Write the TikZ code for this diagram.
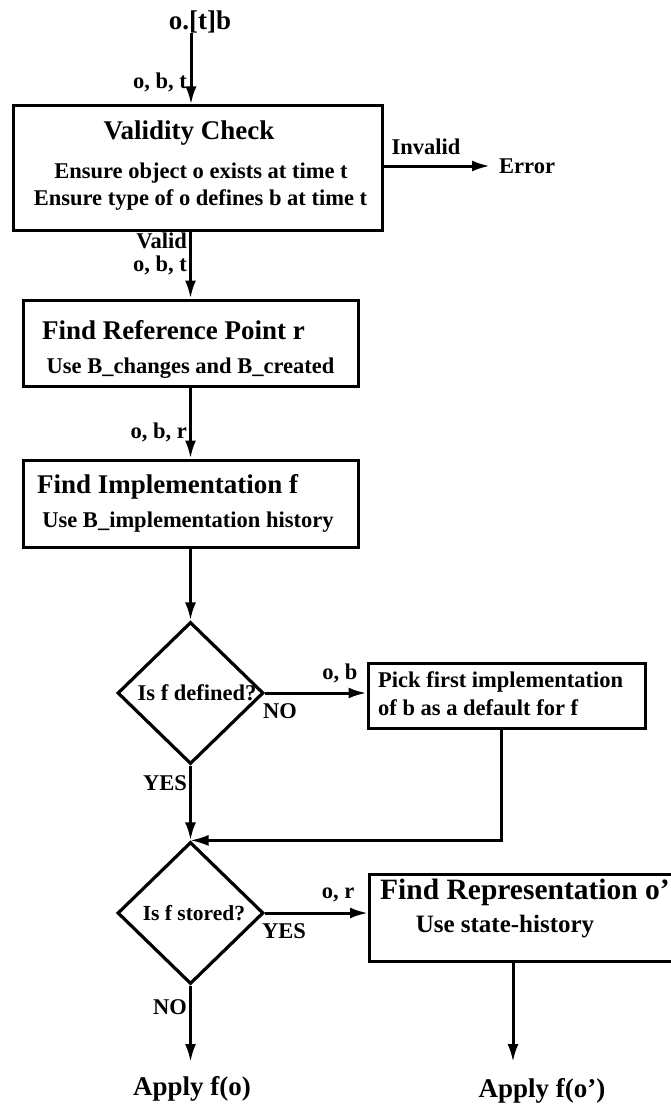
\documentclass[tikz,border=0pt]{standalone}
\usepackage{fontspec}
\setmainfont{Liberation Serif}
\usetikzlibrary{arrows.meta,shapes.geometric,calc}
\begin{document}
\begin{tikzpicture}[x=1pt,y=-1pt,
  box/.style={draw,line width=3pt,rectangle,inner sep=0pt},
  dia/.style={draw,line width=3.2pt,diamond,inner sep=0pt,minimum width=146pt,minimum height=142pt},
  hd/.style={inner sep=0pt,font=\fontsize{27}{30}\selectfont\bfseries},
  tx/.style={inner sep=0pt,font=\fontsize{22.5}{26}\selectfont\bfseries},
  lbl/.style={inner sep=0pt,font=\fontsize{22.5}{26}\selectfont\bfseries},
  ln/.style={line width=2.4pt},
  arr/.style={line width=3pt,-{Latex[length=18pt,width=11pt]}}]
\useasboundingbox (0,0) rectangle (670,1105);

% input
\node[hd] (top) at (200,22) {o.[t]b};
\coordinate (in) at (191,33);

% validity check
\node[box,minimum width=369pt,minimum height=124pt] (valid) at (197.5,168) {};
\node[hd] (vt) at (189,133) {Validity Check};
\node[tx] (v1) at (201,173) {Ensure object o exists at time t};
\node[tx] (v2) at (200.5,200) {Ensure type of o defines b at time t};
\draw[arr] (in) -- (in |- valid.north);
\node[lbl,anchor=east] (l1) at (187,82) {o, b, t};

\node[lbl,anchor=west] (err) at (499,166) {Error};
\node[lbl] (inv) at (426,147) {Invalid};
\draw[arr] (valid.east |- err.west) -- ([xshift=-9pt]err.west);

\node[lbl,anchor=east] (vl) at (187,241) {Valid};
\node[lbl,anchor=east] (l2) at (187,265) {o, b, t};

% reference point
\node[box,minimum width=335pt,minimum height=86pt] (ref) at (190.5,343) {};
\node[hd,anchor=west] (rt) at (42,330) {Find Reference Point r};
\node[tx] (r1) at (190.5,368) {Use B\_changes and B\_created};
\draw[arr] (valid.south -| ref.north) -- (ref.north);

% implementation
\node[box,minimum width=335pt,minimum height=87pt] (impl) at (190.5,503.5) {};
\node[hd,anchor=west] (it) at (37,487) {Find Implementation f};
\node[tx] (i1) at (188,522) {Use B\_implementation history};
\draw[arr] (ref.south) -- (impl.north);
\node[lbl,anchor=east] (l3) at (187,432) {o, b, r};

% decision 1
\node[dia] (d1) at (190.5,693) {};
\node[tx] (d1t) at (197,693) {Is f defined?};
\draw[arr] (impl.south) -- (d1.north);

\node[box,minimum width=277pt,minimum height=65pt] (pick) at (506.5,695.5) {};
\node[tx,anchor=west] (p1) at (378,682) {Pick first implementation};
\node[tx,anchor=west] (p2) at (378,708) {of b as a default for f};
\draw[arr] (d1.east) -- (d1.east -| pick.west);
\node[lbl] (l4) at (340,673) {o, b};
\node[lbl] (no1) at (280,711) {NO};

% decision 2
\node[dia] (d2) at (190.5,913) {};
\node[tx,font=\fontsize{21.5}{24}\selectfont\bfseries] (d2t) at (194,913) {Is f stored?};
\draw[arr] (d1.south) -- (d2.north);
\node[lbl,anchor=east] (yes1) at (187,783) {YES};
\draw[ln,-{Latex[length=18pt,width=11pt]}] ([xshift=-5pt]pick.south) |- (d2.north);

% representation
\node[box,minimum width=312pt,minimum height=87pt,anchor=north west] (rep) at (368,873) {};
\node[hd,anchor=west,font=\fontsize{29.5}{32}\selectfont\bfseries] (rpt) at (380,892) {Find Representation o'};
\node[tx,font=\fontsize{25}{28}\selectfont\bfseries] (rp1) at (505,927) {Use state-history};
\draw[arr] (d2.east) -- (d2.east -| rep.west);
\node[lbl] (l5) at (338,895) {o, r};
\node[lbl] (yes2) at (284,931) {YES};

% outputs
\coordinate (a1) at (190.5,1062);
\draw[arr] (d2.south) -- (a1);
\node[lbl,anchor=east] (no2) at (187,1007) {NO};
\node[hd] (ap1) at (192,1089) {Apply f(o)};
\coordinate (a2) at (513,1062);
\draw[arr] (rep.south -| a2) -- (a2);
\node[hd] (ap2) at (542,1091) {Apply f(o')};
\end{tikzpicture}
\end{document}
